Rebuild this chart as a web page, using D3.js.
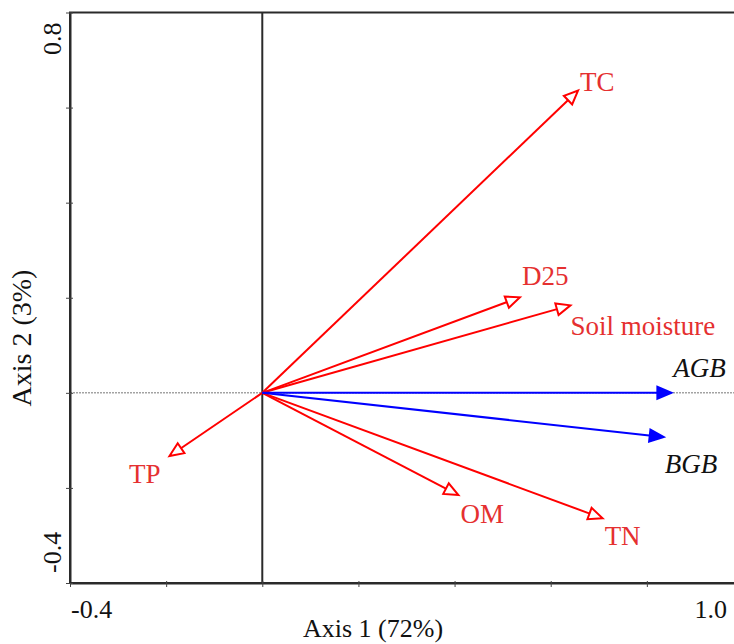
<!DOCTYPE html>
<html>
<head>
<meta charset="utf-8">
<script src="https://cdn.jsdelivr.net/npm/d3@7"></script>
<style>
  html, body { margin: 0; padding: 0; background: #fff; }
  svg { display: block; }
  text { font-family: "Liberation Serif", "Times New Roman", serif; }
</style>
</head>
<body>
<svg id="chart" width="734" height="644"></svg>
<script>
// RDA biplot: soil variables (red, open heads) and biomass responses (blue, filled heads)
const envNames = ["TC", "D25", "Soil moisture", "OM", "TN", "TP"];
const envAxis1 = [0.657, 0.536, 0.641, 0.408, 0.708, -0.193];
const envAxis2 = [0.636, 0.201, 0.184, -0.215, -0.264, -0.133];

const respNames = ["AGB", "BGB"];
const respAxis1 = [0.851, 0.835];
const respAxis2 = [0.0, -0.093];

const xTicks = [-0.4, -0.2, 0.0, 0.2, 0.4, 0.6, 0.8, 1.0];
const yTicks = [-0.4, -0.2, 0.0, 0.2, 0.4, 0.6, 0.8];
const xTickLabels = ["-0.4", "1.0"];
const yTickLabels = ["-0.4", "0.8"];
const xTitle = "Axis 1 (72%)";
const yTitle = "Axis 2 (3%)";

const svg = d3.select("#chart");
const x = d3.scaleLinear().domain([-0.4, 1.0]).range([70, 743]);
const y = d3.scaleLinear().domain([-0.4, 0.8]).range([583, 12.5]);

const RED = "#ff0000", BLUE = "#0000ff";
const RED_TEXT = "#e53030";

// frame
const frame = svg.append("g");
frame.append("rect")
  .attr("x", x(-0.4)).attr("y", y(0.8))
  .attr("width", x(1.0) - x(-0.4)).attr("height", y(-0.4) - y(0.8))
  .attr("fill", "none").attr("stroke", "#2a2a2a").attr("stroke-width", 2);

// reference lines through the origin
svg.append("line")
  .attr("x1", x(-0.4)).attr("x2", x(1.0))
  .attr("y1", y(0)).attr("y2", y(0))
  .attr("stroke", "#777").attr("stroke-width", 1).attr("stroke-dasharray", "2,1");
svg.append("line")
  .attr("x1", x(0)).attr("x2", x(0))
  .attr("y1", y(0.8)).attr("y2", y(-0.4))
  .attr("stroke", "#2a2a2a").attr("stroke-width", 2);

// axes with short crossing ticks
const xAxis = d3.axisBottom(x).tickValues(xTicks).tickFormat("").tickSize(4).tickSizeOuter(0);
const gx = svg.append("g").attr("transform", `translate(0,${y(-0.4)})`).call(xAxis);
gx.select(".domain").attr("stroke", "#2a2a2a").attr("stroke-width", 2);
gx.selectAll(".tick line").attr("stroke", "#444").attr("y1", -2);

const yAxis = d3.axisLeft(y).tickValues(yTicks).tickFormat("").tickSize(4).tickSizeOuter(0);
const gy = svg.append("g").attr("transform", `translate(${x(-0.4)},0)`).call(yAxis);
gy.select(".domain").attr("stroke", "#2a2a2a").attr("stroke-width", 2);
gy.selectAll(".tick line").attr("stroke", "#444").attr("x1", 3);

// end tick labels
svg.append("text").text(xTickLabels[0])
  .attr("x", x(-0.4) + 1).attr("y", 618)
  .attr("font-size", 26).attr("fill", "#111");
svg.append("text").text(xTickLabels[1])
  .attr("x", 727).attr("y", 618).attr("text-anchor", "end")
  .attr("font-size", 26).attr("fill", "#111");
svg.append("text").text(yTickLabels[0])
  .attr("transform", `translate(61,${y(-0.4) - 10}) rotate(-90)`)
  .attr("font-size", 26).attr("fill", "#111");
svg.append("text").text(yTickLabels[1])
  .attr("transform", `translate(61,${y(0.8) + 10}) rotate(-90)`)
  .attr("text-anchor", "end")
  .attr("font-size", 26).attr("fill", "#111");

// axis titles
svg.append("text").text(xTitle)
  .attr("x", 373).attr("y", 637).attr("text-anchor", "middle")
  .attr("font-size", 26).attr("fill", "#111");
svg.append("text").text(yTitle)
  .attr("transform", `translate(31,338) rotate(-90)`)
  .attr("text-anchor", "middle")
  .attr("font-size", 28).attr("fill", "#111");

// arrow head polygon at the tip of a vector
function headPath(x0, y0, x1, y1, len, half) {
  const a = Math.atan2(y1 - y0, x1 - x0);
  const bx = x1 - len * Math.cos(a), by = y1 - len * Math.sin(a);
  const px = -Math.sin(a) * half, py = Math.cos(a) * half;
  return `M${x1},${y1}L${bx + px},${by + py}L${bx - px},${by - py}Z`;
}

const envData = envNames.map((n, i) => ({ name: n, a1: envAxis1[i], a2: envAxis2[i] }));
const respData = respNames.map((n, i) => ({ name: n, a1: respAxis1[i], a2: respAxis2[i] }));

// label placement relative to arrow tips: [dx, dy, anchor]
const labelPlace = {
  "TC": [2, 1, "start"],
  "D25": [2, -12, "start"],
  "Soil moisture": [0, 30, "start"],
  "OM": [2, 28, "start"],
  "TN": [2, 27, "start"],
  "TP": [-9, 27, "end"],
  "AGB": [2, -16, "start"],
  "BGB": [1, 36, "start"]
};

function drawVectors(data, color, openHead, textColor, italic) {
  const g = svg.append("g");
  const ox = x(0), oy = y(0);
  data.forEach(d => {
    const tx = x(d.a1), ty = y(d.a2);
    const a = Math.atan2(ty - oy, tx - ox);
    const shaft = openHead ? 13 : 10;
    g.append("line")
      .attr("x1", ox).attr("y1", oy)
      .attr("x2", tx - shaft * Math.cos(a)).attr("y2", ty - shaft * Math.sin(a))
      .attr("stroke", color).attr("stroke-width", 2);
    g.append("path")
      .attr("d", headPath(ox, oy, tx, ty, 14, 6))
      .attr("fill", openHead ? "#fff" : color)
      .attr("stroke", color).attr("stroke-width", 2)
      .attr("stroke-linejoin", "miter");
    const p = labelPlace[d.name];
    g.append("text").text(d.name)
      .attr("x", tx + p[0]).attr("y", ty + p[1])
      .attr("text-anchor", p[2])
      .attr("font-size", 27)
      .attr("font-style", italic ? "italic" : "normal")
      .attr("fill", textColor);
  });
}

drawVectors(envData, RED, true, RED_TEXT, false);
drawVectors(respData, BLUE, false, "#111", true);
</script>
</body>
</html>
